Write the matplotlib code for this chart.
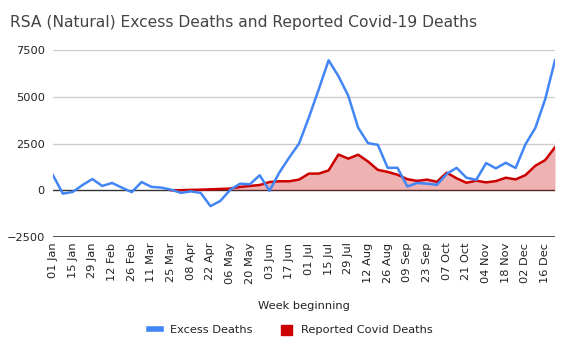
import numpy as np
import matplotlib
matplotlib.use("Agg")
import matplotlib.pyplot as plt
from matplotlib.lines import Line2D
from matplotlib.patches import Patch

# weekly series, week beginning 01 Jan ... 23 Dec (52 weeks)
tick_labels = ["01 Jan", "15 Jan", "29 Jan", "12 Feb", "26 Feb", "11 Mar", "25 Mar",
               "08 Apr", "22 Apr", "06 May", "20 May", "03 Jun", "17 Jun", "01 Jul",
               "15 Jul", "29 Jul", "12 Aug", "26 Aug", "09 Sep", "23 Sep", "07 Oct",
               "21 Oct", "04 Nov", "18 Nov", "02 Dec", "16 Dec"]

excess = [800, -180, -90, 280, 600, 230, 390, 140, -100, 440,
          180, 140, 30, -140, -60, -140, -850, -570, 20, 350,
          320, 800, -30, 950, 1750, 2500, 3900, 5400, 6950, 6100,
          5050, 3350, 2520, 2430, 1200, 1200, 200, 390, 350, 290,
          870, 1200, 670, 560, 1450, 1170, 1470, 1190, 2460, 3330,
          4860, 6950]

covid = [np.nan] * 12 + [
    0, 5, 20, 30, 50, 70, 90, 180,
    230, 280, 440, 480, 480, 570, 890, 890, 1060, 1910,
    1690, 1900, 1540, 1090, 980, 830, 590, 500, 570, 450,
    940, 640, 400, 510, 420, 490, 670, 580, 810, 1310,
    1610, 2300]

blue = "#4285F4"
red = "#CC0000"
txt = "#222222"

x = np.arange(len(excess))
cov = np.array(covid, dtype=float)

fig = plt.figure(figsize=(5.71, 3.45), dpi=100)
ax = fig.add_axes([53 / 571, 1 - 237 / 345, (555 - 53) / 571, (237 - 50) / 345])

ax.set_xlim(0, len(excess) - 1)
ax.set_ylim(-2500, 7500)
ax.set_yticks([-2500, 0, 2500, 5000, 7500])
for v in [2500, 5000, 7500]:
    ax.axhline(v, color="#cccccc", lw=1, zorder=0)
ax.axhline(0, color="#333333", lw=1, zorder=1)
ax.axhline(-2500, color="#333333", lw=1.2, zorder=1)

mask = ~np.isnan(cov)
ax.fill_between(x[mask], 0, cov[mask], color=red, alpha=0.3, lw=0, zorder=2)
ax.plot(x, cov, color=red, lw=1.8, zorder=3)
ax.plot(x, excess, color=blue, lw=1.8, zorder=4)

ax.set_xticks(x[::2])
ax.set_xticklabels(tick_labels, rotation=90, fontsize=8.2, color=txt)
ax.tick_params(axis="y", labelsize=8.2, labelcolor=txt, length=0, pad=6)
ax.tick_params(axis="x", length=0, pad=4)
for s in ax.spines.values():
    s.set_visible(False)

ax.set_xlabel("Week beginning", fontsize=8.2, color=txt, labelpad=12)

fig.text(10 / 571, 1 - 22 / 345, "RSA (Natural) Excess Deaths and Reported Covid-19 Deaths",
         fontsize=11.2, color="#444444", va="center", ha="left")

handles = [Line2D([0], [0], color=blue, lw=4),
           Patch(facecolor=red, edgecolor=red)]
fig.legend(handles, ["Excess Deaths", "Reported Covid Deaths"], loc="center",
           bbox_to_anchor=(0.51, 1 - 330 / 345), ncol=2, frameon=False,
           fontsize=8.2, handlelength=1.0, handleheight=1.0, columnspacing=2.5,
           labelcolor=txt)

fig.savefig("out.png", dpi=100)
